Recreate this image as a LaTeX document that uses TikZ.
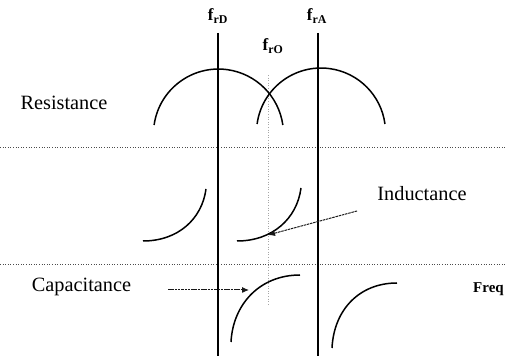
\documentclass[tikz,border=0pt]{standalone}
\usepackage{fontspec}
\setmainfont{Liberation Serif}
\usetikzlibrary{arrows.meta}
\begin{document}
\begin{tikzpicture}[x=1pt,y=1pt,
  lbl/.style={inner sep=0pt,font=\fontsize{20.3}{22}\selectfont},
  flbl/.style={inner sep=0pt,font=\fontsize{17}{18}\selectfont\bfseries},
  curve/.style={line width=1.5pt},
  freqline/.style={line width=1.8pt},
  sep/.style={line width=0.6pt,dotted,black!70},
  centre/.style={line width=0.6pt,dotted,black!35},
  pointer/.style={line width=1pt,black!90,dash pattern=on 2.5pt off 0.8pt,-{Latex[length=7pt,width=6pt]}}]
\useasboundingbox (0,0) rectangle (507,359);
% separators
\coordinate (s1a) at (0,212); \coordinate (s1b) at (507,212);
\coordinate (s2a) at (0,95);  \coordinate (s2b) at (507,95);
\draw[sep] (s1a) -- (s1b);
\draw[sep] (s2a) -- (s2b);
% centre dotted line
\coordinate (c1) at (268,284); \coordinate (c2) at (268,54);
\draw[centre] (c1) -- (c2);
% frequency lines
\coordinate (d1) at (218,326); \coordinate (d2) at (218,3);
\coordinate (a1) at (318,326); \coordinate (a2) at (318,3);
\draw[freqline] (d1) -- (d2);
\draw[freqline] (a1) -- (a2);
% labels
\node[flbl] (frD) at (218,343) {f\textsubscript{rD}};
\node[flbl] (frO) at (273,313) {f\textsubscript{rO}};
\node[flbl] (frA) at (317,343) {f\textsubscript{rA}};
\node[lbl] (res) at (64,256) {Resistance};
\node[lbl] (ind) at (422,165) {Inductance};
\node[lbl] (cap) at (81.5,72) {Capacitance};
\node[inner sep=0pt,font=\fontsize{15}{16}\selectfont\bfseries] (freq) at (488.5,70) {Freq};
% resistance arcs
\draw[curve] (154.1,234) arc[start angle=172,end angle=8,radius=65];
\draw[curve] (257.1,235) arc[start angle=172.4,end angle=7.6,radius=64.5];
% inductance curves
\draw[curve] (143,118) .. controls (178,118) and (202,140) .. (206,170);
\draw[curve] (237,118) .. controls (272,118) and (297,140) .. (301,171);
% capacitance curves
\draw[curve] (231,17) .. controls (233,55) and (260,84) .. (300,84);
\draw[curve] (332,11) .. controls (334,50) and (360,76) .. (397,76);
% pointers
\coordinate (ip1) at (357,148); \coordinate (ip2) at (268,124);
\draw[pointer] (ip1) -- (ip2);
\coordinate (cp1) at (168,69); \coordinate (cp2) at (249,69);
\draw[pointer] (cp1) -- (cp2);
\end{tikzpicture}
\end{document}
